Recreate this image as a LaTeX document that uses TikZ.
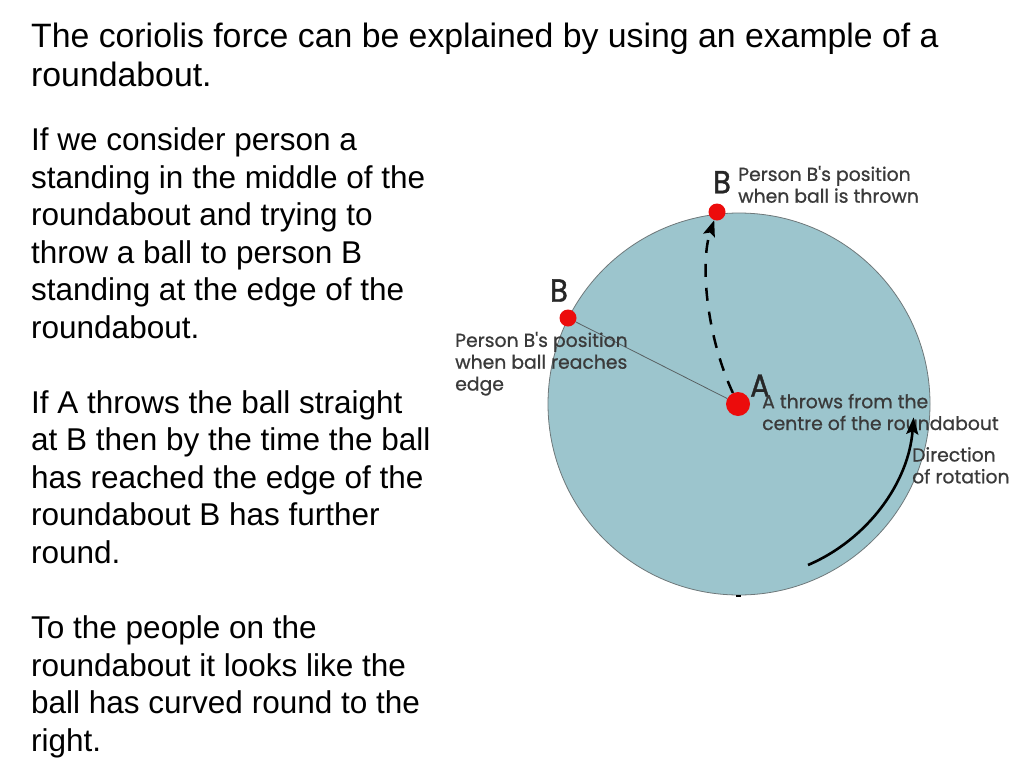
\documentclass[tikz,border=0pt]{standalone}
\usepackage{fontspec}
\setmainfont{Liberation Sans}
\newfontfamily\lblfont[FakeBold=0.8]{Poppins}
\newfontfamily\bigfont[FakeBold=1.2,FakeStretch=0.9]{Poppins}
\usetikzlibrary{arrows.meta}
\definecolor{disc}{RGB}{156,197,205}
\definecolor{discline}{RGB}{110,120,122}
\definecolor{dotred}{RGB}{236,12,12}
\definecolor{lbl}{RGB}{58,58,58}
\begin{document}
\begin{tikzpicture}[x=1pt,y=-1pt,
  bodytext/.style={anchor=base west, inner sep=0pt, align=left, font=\fontsize{31.5}{37.5}\selectfont},
  titletext/.style={anchor=base west, inner sep=0pt, align=left, font=\fontsize{33.8}{39.4}\selectfont},
  smalllbl/.style={anchor=base west, inner sep=0pt, align=left, text=lbl, font=\lblfont\fontsize{18.8}{21.8}\selectfont},
  biglbl/.style={anchor=base west, inner sep=0pt, text=black!85, font=\bigfont\fontsize{32}{32}\selectfont},
  reddot/.style={circle, fill=dotred, inner sep=0pt, minimum size=#1},
  throwpath/.style={draw=black, line width=2.5pt, dash pattern=on 13pt off 11pt, -{Stealth[length=16pt,width=12pt,inset=3pt]}},
  rotpath/.style={draw=black, line width=2.6pt, -{Stealth[length=17pt,width=12pt,inset=3pt]}},
  ]
\useasboundingbox (0,0) rectangle (1024,768);
\fill[white] (0,0) rectangle (1024,768);

% title and text (base anchor = baseline of last line)
\node[titletext] (title) at (31,86.7) {The coriolis force can be explained by using an example of a\\roundabout.};
\node[bodytext] (p1) at (31,338.2) {If we consider person a\\standing in the middle of the\\roundabout and trying to\\throw a ball to person B\\standing at the edge of the\\roundabout.};
\node[bodytext] (p2) at (31,563.2) {If A throws the ball straight\\at B then by the time the ball\\has reached the edge of the\\roundabout B has further\\round.};
\node[bodytext] (p3) at (31,751) {To the people on the\\roundabout it looks like the\\ball has curved round to the\\right.};

% roundabout
\coordinate (ctr) at (739,404);
\draw[fill=disc, draw=discline, line width=0.8pt] (ctr) circle[radius=191];
\draw[black, line width=2pt] (736,596) -- (741,596);

% persons
\node[reddot=17pt] (B1) at (717,212) {};
\node[reddot=17pt] (B2) at (568,318) {};
\node[reddot=24pt] (A) at (738,404) {};

\draw[discline!80!black, line width=0.8pt] (B2) -- (A);
\draw[throwpath] (A) .. controls (706,335) and (700,262) .. (B1);

% labels
\node[biglbl] (bt) at (713,193.3) {B};
\node[biglbl] (bl) at (550,301.7) {B};
\node[biglbl] (ba) at (750,396.7) {A};
\node[smalllbl] (lt) at (738,202.7) {Person B's position\\when ball is thrown};
\node[smalllbl] (ll) at (455,390.5) {Person B's position\\when ball reaches\\edge};
\node[smalllbl] (la) at (762,430) {A throws from the\\centre of the roundabout};
\node[smalllbl] (lr) at (912,483.3) {Direction\\of rotation};

% rotation
\coordinate (rs) at (808,565);
\draw[rotpath] (rs) arc[start angle=66.8, end angle=4.3, radius=175];
\end{tikzpicture}
\end{document}
